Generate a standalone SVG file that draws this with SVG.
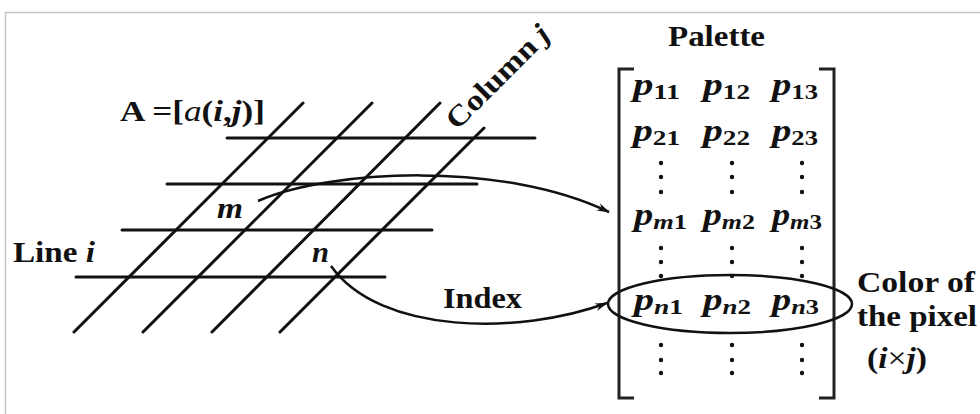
<svg xmlns="http://www.w3.org/2000/svg" width="980" height="414" viewBox="0 0 980 414">
<style>
.t{font-family:"Liberation Serif","Times New Roman",serif;font-weight:bold;fill:#111;font-size:29px}
.p{font-family:"Liberation Serif","Times New Roman",serif;font-weight:bold;font-style:italic;fill:#111;font-size:32px}
.s{font-style:normal;font-size:22px}
.si{font-style:italic;font-size:22px}
.g{stroke:#111;stroke-width:3;fill:none;stroke-linecap:round}
.c{stroke:#111;stroke-width:2.5;fill:none}
.b{stroke:#222;stroke-width:3;fill:none}
.d{fill:#111}
</style>
<defs>
<marker id="ah" markerWidth="14" markerHeight="10" refX="12" refY="5" orient="auto" markerUnits="userSpaceOnUse">
<path d="M0,1 L13,5 L0,9 L4,5 Z" fill="#111"/>
</marker>
</defs>
<rect x="5.5" y="12.5" width="1000" height="430" fill="#fff" stroke="#c4c4c4" stroke-width="1.5"/>

<g id="grid">
<line class="g" x1="227" y1="138" x2="535" y2="138"/>
<line class="g" x1="167" y1="184" x2="477" y2="184"/>
<line class="g" x1="122" y1="230" x2="432" y2="230"/>
<line class="g" x1="76" y1="277" x2="385" y2="277"/>
<line class="g" x1="74" y1="332" x2="303" y2="103"/>
<line class="g" x1="143" y1="332" x2="372" y2="103"/>
<line class="g" x1="212" y1="332" x2="440" y2="103"/>
<line class="g" x1="280" y1="332" x2="484" y2="128"/>
</g>

<g id="labels">
<text class="t" x="120" y="121" textLength="145" lengthAdjust="spacingAndGlyphs">A =[<tspan font-style="italic" font-weight="normal">a</tspan>(<tspan font-style="italic">i</tspan>,<tspan font-style="italic">j</tspan>)]</text>
<text class="t" transform="translate(457,131) rotate(-45)" textLength="134" lengthAdjust="spacingAndGlyphs">Column <tspan font-style="italic">j</tspan></text>
<text class="t" x="13" y="262" textLength="82" lengthAdjust="spacingAndGlyphs">Line <tspan font-style="italic">i</tspan></text>
<text class="t" x="217" y="218" font-style="italic" textLength="26" lengthAdjust="spacingAndGlyphs">m</text>
<text class="t" x="312" y="262" font-style="italic" textLength="17" lengthAdjust="spacingAndGlyphs">n</text>
<text class="t" x="443" y="308" textLength="79" lengthAdjust="spacingAndGlyphs">Index</text>
</g>

<g id="palette">
<text class="t" x="668" y="46" textLength="97" lengthAdjust="spacingAndGlyphs">Palette</text>
<path class="b" d="M634,69 L619,69 L619,398 L634,398"/>
<path class="b" d="M819,69 L834,69 L834,398 L819,398"/>
<text class="p" x="633" y="95" textLength="47" lengthAdjust="spacingAndGlyphs">p<tspan class="s" dy="4">11</tspan></text>
<text class="p" x="703" y="95" textLength="47" lengthAdjust="spacingAndGlyphs">p<tspan class="s" dy="4">12</tspan></text>
<text class="p" x="772" y="95" textLength="46" lengthAdjust="spacingAndGlyphs">p<tspan class="s" dy="4">13</tspan></text>
<text class="p" x="633" y="141" textLength="47" lengthAdjust="spacingAndGlyphs">p<tspan class="s" dy="4">21</tspan></text>
<text class="p" x="703" y="141" textLength="47" lengthAdjust="spacingAndGlyphs">p<tspan class="s" dy="4">22</tspan></text>
<text class="p" x="772" y="141" textLength="46" lengthAdjust="spacingAndGlyphs">p<tspan class="s" dy="4">23</tspan></text>
<text class="p" x="634" y="225" textLength="53" lengthAdjust="spacingAndGlyphs">p<tspan class="si" dy="4">m</tspan><tspan class="s">1</tspan></text>
<text class="p" x="703" y="225" textLength="52" lengthAdjust="spacingAndGlyphs">p<tspan class="si" dy="4">m</tspan><tspan class="s">2</tspan></text>
<text class="p" x="772" y="225" textLength="50" lengthAdjust="spacingAndGlyphs">p<tspan class="si" dy="4">m</tspan><tspan class="s">3</tspan></text>
<text class="p" x="634" y="310" textLength="49" lengthAdjust="spacingAndGlyphs">p<tspan class="si" dy="4">n</tspan><tspan class="s">1</tspan></text>
<text class="p" x="703" y="310" textLength="48" lengthAdjust="spacingAndGlyphs">p<tspan class="si" dy="4">n</tspan><tspan class="s">2</tspan></text>
<text class="p" x="772" y="310" textLength="47" lengthAdjust="spacingAndGlyphs">p<tspan class="si" dy="4">n</tspan><tspan class="s">3</tspan></text>
<g class="d">
<circle cx="661" cy="163" r="2.2"/><circle cx="661" cy="177" r="2.2"/><circle cx="661" cy="192" r="2.2"/>
<circle cx="732" cy="163" r="2.2"/><circle cx="732" cy="177" r="2.2"/><circle cx="732" cy="192" r="2.2"/>
<circle cx="802" cy="163" r="2.2"/><circle cx="802" cy="177" r="2.2"/><circle cx="802" cy="192" r="2.2"/>
<circle cx="661" cy="248" r="2.2"/><circle cx="661" cy="262" r="2.2"/><circle cx="661" cy="276" r="2.2"/>
<circle cx="732" cy="248" r="2.2"/><circle cx="732" cy="262" r="2.2"/><circle cx="732" cy="276" r="2.2"/>
<circle cx="802" cy="248" r="2.2"/><circle cx="802" cy="262" r="2.2"/><circle cx="802" cy="276" r="2.2"/>
<circle cx="661" cy="345" r="2.2"/><circle cx="661" cy="360" r="2.2"/><circle cx="661" cy="373" r="2.2"/>
<circle cx="732" cy="345" r="2.2"/><circle cx="732" cy="360" r="2.2"/><circle cx="732" cy="373" r="2.2"/>
<circle cx="802" cy="345" r="2.2"/><circle cx="802" cy="360" r="2.2"/><circle cx="802" cy="373" r="2.2"/>
</g>
</g>

<g id="highlight">
<ellipse class="c" cx="730" cy="304" rx="122" ry="29"/>
<text class="t" x="857" y="292" textLength="118" lengthAdjust="spacingAndGlyphs">Color of</text>
<text class="t" x="857" y="326" textLength="120" lengthAdjust="spacingAndGlyphs">the pixel</text>
<text class="t" x="867" y="368" textLength="60" lengthAdjust="spacingAndGlyphs">(<tspan font-style="italic">i</tspan><tspan font-weight="normal">×</tspan><tspan font-style="italic">j</tspan>)</text>
</g>

<g id="connectors">
<path class="c" d="M258,201 C330,170 500,160 609,212" marker-end="url(#ah)"/>
<path class="c" d="M331,266 C380,335 520,335 607,303" marker-end="url(#ah)"/>
</g>
</svg>
